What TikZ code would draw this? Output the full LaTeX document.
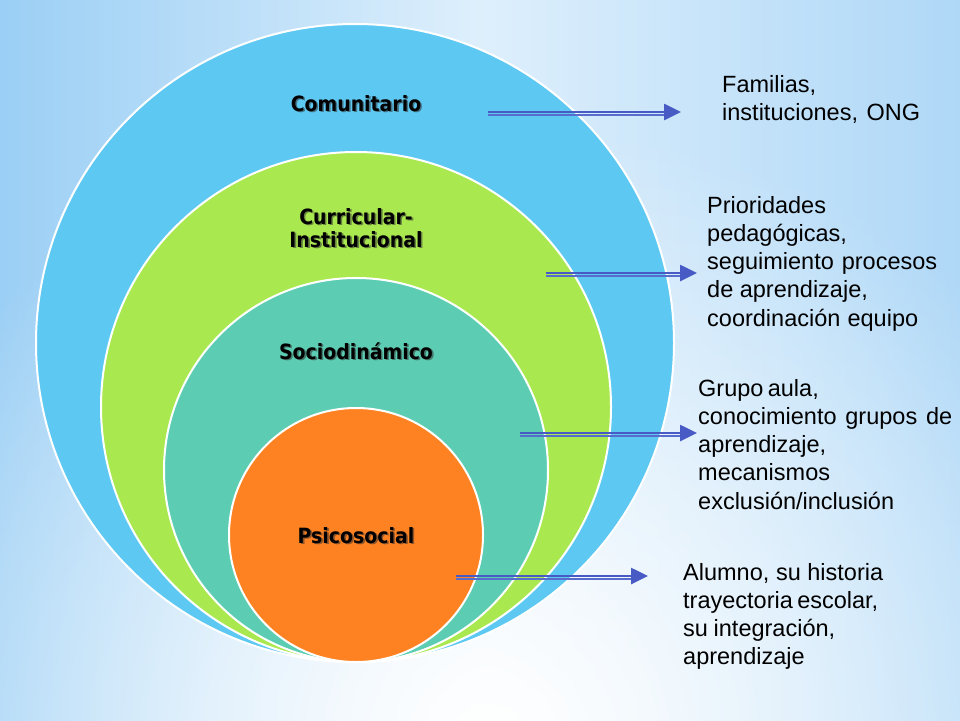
\documentclass[tikz,border=0pt]{standalone}
\usepackage{fontspec}
\setmainfont{Liberation Sans}
\newfontfamily\labfont[FakeStretch=0.9]{DejaVu Sans}
\newfontfamily\rtfont{Liberation Sans}
\usetikzlibrary{arrows.meta,fadings}
\definecolor{cblue}{RGB}{93,201,242}
\definecolor{cgreen}{RGB}{170,232,80}
\definecolor{cteal}{RGB}{92,205,178}
\definecolor{corange}{RGB}{255,130,34}
\definecolor{arrowc}{RGB}{72,90,196}
\definecolor{arrowl}{RGB}{88,108,206}
\definecolor{bgl}{RGB}{155,207,245}
\definecolor{bgm}{RGB}{222,239,252}
\definecolor{bgr}{RGB}{175,216,247}
\tikzfading[name=glowfade, inner color=transparent!0, outer color=transparent!100]
\newcommand\rl[2]{\hbox to #1pt{#2}}
\begin{document}
\begin{tikzpicture}[x=1pt,y=-1pt,
  lab/.style={font=\labfont\bfseries\fontsize{21}{23}\selectfont, text=black, inner sep=0pt, anchor=base},
  labshadow/.style={lab, text=black!80, opacity=0.55},
  desc/.style={font=\rtfont\fontsize{23.5}{28.3}\selectfont, text=black, inner sep=0pt, anchor=base west},
  arrmain/.style={draw=arrowc, line width=2.6pt, -{Triangle[length=17pt,width=16pt]}},
  arrsub/.style={draw=arrowl, line width=1.8pt},
  ring/.style={draw=white, line width=2pt}]
\useasboundingbox (0,0) rectangle (960,720);
% background
\begin{scope}
\clip (0,0) rectangle (960,720);
\shade[left color=bgl, right color=bgr, middle color=bgm] (0,0) rectangle (960,720);
\fill[white, path fading=glowfade] (490,740) ellipse[x radius=700pt, y radius=620pt];
\end{scope}
% nested circles
\fill[cblue, ring] (355,343) circle[radius=319pt];
\fill[cgreen, ring] (356,407) circle[radius=255pt];
\fill[cteal, ring] (356,470) circle[radius=192pt];
\fill[corange, ring] (356,535) circle[radius=127pt];
% labels (shadow + text)
\node[labshadow] (lcomS) at (357.6,112.8) {Comunitario};
\node[lab] (lcom) at (356,111) {Comunitario};
\node[labshadow] (lcurS) at (357.6,225.8) {\vtop{\rl{160}{\hss Curricular-\hss}\rl{160}{\hss Institucional\hss}}};
\node[lab] (lcur) at (356,224) {\vtop{\rl{160}{\hss Curricular-\hss}\rl{160}{\hss Institucional\hss}}};
\node[labshadow] (lsocS) at (357.6,360.8) {Sociodinámico};
\node[lab] (lsoc) at (356,359) {Sociodinámico};
\node[labshadow] (lpsiS) at (357.6,544.8) {Psicosocial};
\node[lab] (lpsi) at (356,543) {Psicosocial};
% descriptions
\node[desc] (t1) at (722,92) {\vtop{\hbox{Familias,}\rl{198}{instituciones, ONG}}};
\node[desc] (t2) at (707,213) {\vtop{\hbox{Prioridades}\hbox{pedagógicas,}\rl{230}{seguimiento procesos}\hbox{de aprendizaje,}\rl{211}{coordinación equipo}}};
\node[desc] (t3) at (698,396) {\vtop{\rl{119}{Grupo aula,}\rl{254}{conocimiento grupos de}\hbox{aprendizaje,}\hbox{mecanismos}\hbox{exclusión/inclusión}}};
\node[desc] (t4) at (683,580) {\vtop{\rl{200}{Alumno, su historia}\rl{192}{trayectoria escolar,}\rl{152}{su integración,}\hbox{aprendizaje}}};
% arrows
\coordinate (a1s) at (488,112); \coordinate (a1e) at (681,112);
\coordinate (a2s) at (546,273); \coordinate (a2e) at (697,273);
\coordinate (a3s) at (520,433); \coordinate (a3e) at (697,433);
\coordinate (a4s) at (456,576); \coordinate (a4e) at (648,576);
\foreach \s/\e in {a1s/a1e,a2s/a2e,a3s/a3e,a4s/a4e}{
  \draw[arrsub] ([yshift=-2.6pt]\s) -- ([yshift=-2.6pt,xshift=-15pt]\e);
  \draw[arrmain] (\s) -- (\e);
}
\end{tikzpicture}
\end{document}
